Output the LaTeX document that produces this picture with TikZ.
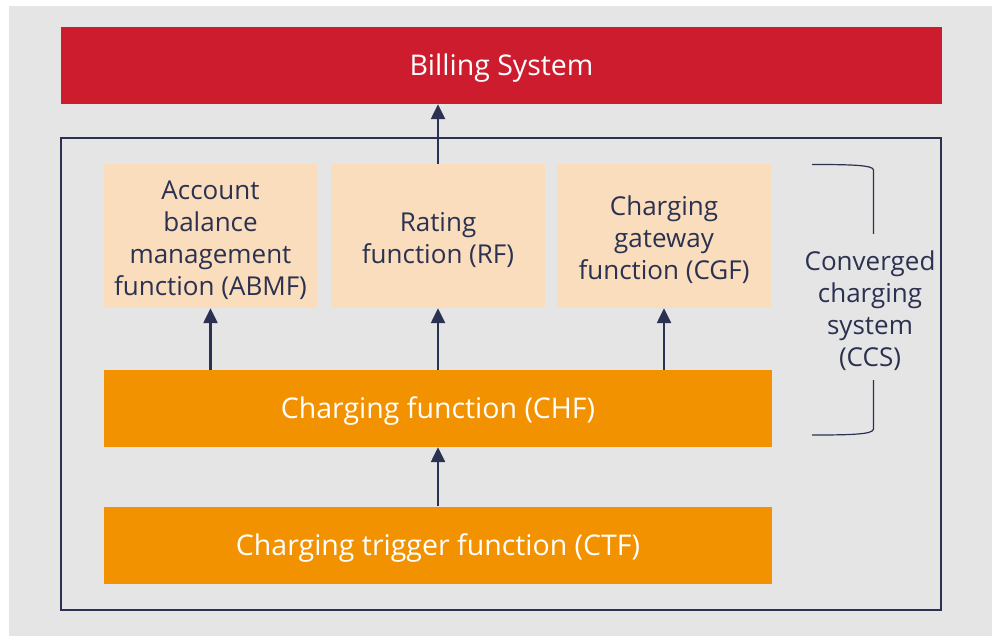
\documentclass[tikz,border=0pt]{standalone}
\usepackage{fontspec}
\setmainfont{Open Sans}
\usetikzlibrary{arrows.meta}
\definecolor{bgray}{HTML}{E5E5E5}
\definecolor{bred}{HTML}{CC1C2E}
\definecolor{borange}{HTML}{F39200}
\definecolor{bpeach}{HTML}{FADDBC}
\definecolor{bnavy}{HTML}{2B3150}
\tikzset{
  box/.style={draw=none, inner sep=0pt, align=center},
  darktxt/.style={text=bnavy, font=\fontsize{26}{32}\selectfont, align=center, inner sep=0pt},
  lighttxt/.style={text=white, font=\fontsize{28.5}{34}\selectfont, align=center, inner sep=0pt},
  dlab/.style={label={[darktxt, yshift=-4pt]center:{#1}}},
  llab/.style={label={[lighttxt, yshift=-3pt]center:{#1}}},
  arr/.style={draw=bnavy, line width=2.4pt, -{Triangle[length=15pt,width=14pt]}},
  frame/.style={draw=bnavy, line width=2.4pt},
  brace/.style={draw=bnavy, line width=1.2pt}
}
\begin{document}
\begin{tikzpicture}[x=1pt,y=-1pt]
\useasboundingbox (0,0) rectangle (992,636);
\fill[white] (0,0) rectangle (992,636);
\fill[bgray] (9,6) rectangle (992,636);
\node[box, fill=bred, minimum width=881pt, minimum height=77pt, llab={Billing System}] (bill) at (501.5,65.5) {};
\draw[frame] (61,138) rectangle (941,610);
\node[box, fill=bpeach, minimum width=213pt, minimum height=144pt, dlab={Account\\balance\\management\\function (ABMF)}] (abmf) at (210.5,236) {};
\node[box, fill=bpeach, minimum width=214pt, minimum height=144pt, dlab={Rating\\function (RF)}] (rf) at (438,236) {};
\node[box, fill=bpeach, minimum width=214pt, minimum height=144pt, dlab={Charging\\gateway\\function (CGF)}] (cgf) at (664,236) {};
\node[box, fill=borange, minimum width=668pt, minimum height=77pt, llab={Charging function (CHF)}] (chf) at (438,408.5) {};
\node[box, fill=borange, minimum width=668pt, minimum height=77pt, llab={Charging trigger function (CTF)}] (ctf) at (438,545) {};
\node[darktxt] (ccs) at (870,311) {Converged\\charging\\system\\(CCS)};
\draw[arr] (rf.north) -- (rf.north |- bill.south);
\draw[arr] (chf.north -| abmf.south) -- (abmf.south);
\draw[arr] (chf.north) -- (rf.south);
\draw[arr] (chf.north -| cgf.south) -- (cgf.south);
\draw[arr] (ctf.north) -- (chf.south);
\coordinate (bt1) at (812,164.5);
\coordinate (bt2) at (873.5,234);
\coordinate (bb1) at (812,435);
\coordinate (bb2) at (873.5,380);
\draw[brace] (bt1) .. controls (850,164.5) and (873.5,165) .. (873.5,170) -- (bt2);
\draw[brace] (bb1) .. controls (850,435) and (873.5,434.5) .. (873.5,429) -- (bb2);
\end{tikzpicture}
\end{document}
